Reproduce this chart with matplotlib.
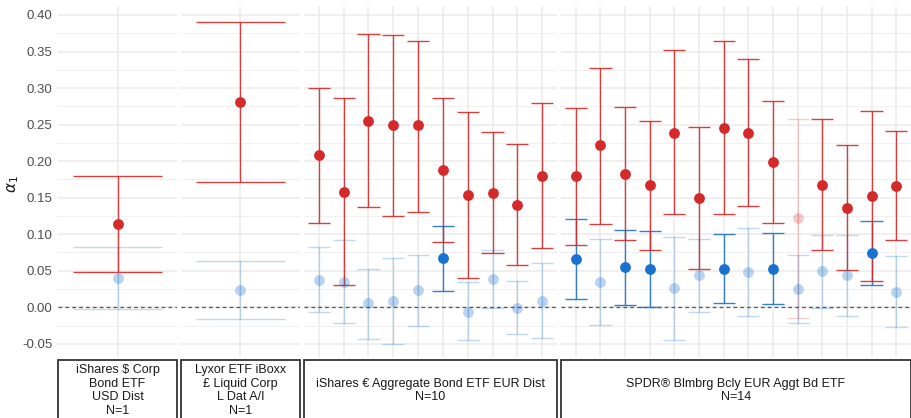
"""Faceted alpha_1 estimates per fund: red = one estimate, blue = the other, faded when CI crosses 0."""

import matplotlib
matplotlib.use("Agg")
import matplotlib.pyplot as plt
from matplotlib.patches import Rectangle
from matplotlib.ticker import MultipleLocator

plt.rcParams["font.family"] = ["Liberation Sans", "DejaVu Sans"]

funds = ["iShares $ Corp\nBond ETF\nUSD Dist\nN=1",
         "Lyxor ETF iBoxx\n£ Liquid Corp\nL Dat A/I\nN=1",
         "iShares € Aggregate Bond ETF EUR Dist\nN=10",
         "SPDR® Blmbrg Bcly EUR Aggt Bd ETF\nN=14"]

red_est = [[0.114], [0.281],
           [0.208, 0.158, 0.255, 0.249, 0.249, 0.188, 0.153, 0.157, 0.140, 0.180],
           [0.179, 0.222, 0.183, 0.167, 0.239, 0.150, 0.246, 0.239, 0.199, 0.122,
            0.168, 0.136, 0.152, 0.166]]
red_lo = [[0.048], [0.172],
          [0.116, 0.031, 0.137, 0.125, 0.131, 0.090, 0.040, 0.074, 0.058, 0.081],
          [0.085, 0.114, 0.092, 0.079, 0.127, 0.053, 0.127, 0.139, 0.115, -0.014,
           0.079, 0.051, 0.036, 0.092]]
red_hi = [[0.179], [0.390],
          [0.300, 0.286, 0.374, 0.372, 0.365, 0.286, 0.267, 0.240, 0.223, 0.279],
          [0.273, 0.328, 0.274, 0.255, 0.352, 0.247, 0.365, 0.340, 0.282, 0.257,
           0.257, 0.222, 0.269, 0.241]]

blue_est = [[0.040], [0.023],
            [0.037, 0.035, 0.006, 0.008, 0.023, 0.067, -0.006, 0.039, -0.001, 0.009],
            [0.066, 0.035, 0.055, 0.052, 0.026, 0.044, 0.053, 0.048, 0.053, 0.025,
             0.050, 0.044, 0.074, 0.021]]
blue_lo = [[-0.002], [-0.016],
           [-0.007, -0.022, -0.043, -0.050, -0.026, 0.022, -0.045, -0.001, -0.037, -0.042],
           [0.012, -0.024, 0.003, 0.001, -0.045, -0.007, 0.006, -0.012, 0.004, -0.022,
            -0.001, -0.012, 0.031, -0.027]]
blue_hi = [[0.082], [0.063],
           [0.082, 0.092, 0.053, 0.067, 0.071, 0.111, 0.034, 0.079, 0.036, 0.060],
           [0.121, 0.094, 0.106, 0.104, 0.096, 0.094, 0.100, 0.108, 0.102, 0.072,
            0.099, 0.099, 0.118, 0.070]]

RED, BLUE = "#d42a2a", "#1a72d0"
W, H = 911, 418
panels_px = [(58, 177), (181, 300), (304, 557), (561, 911)]
top_px, bot_px = 6, 357

fig = plt.figure(figsize=(W / 100, H / 100), dpi=100)


def box(x0, x1, y0, y1):
    return [x0 / W, 1 - y1 / H, (x1 - x0) / W, (y1 - y0) / H]


def draw_series(ax, est, lo, hi, color, faded_alpha):
    for i, (e, l, h) in enumerate(zip(est, lo, hi)):
        a = 1.0 if l > 0 else faded_alpha
        ax.vlines(i, l, h, color=color, lw=1.0, alpha=a * 0.9, zorder=3)
        ax.hlines([l, h], i - 0.45, i + 0.45, color=color, lw=1.0, alpha=a * 0.9, zorder=3)
        ax.plot(i, e, "o", ms=7.8, color=color, mec="none", alpha=a, zorder=4)


for k, (x0, x1) in enumerate(panels_px):
    ax = fig.add_axes(box(x0, x1, top_px, bot_px))
    n = len(red_est[k])
    ax.set_xlim(-0.6, n - 1 + 0.6)
    ax.set_ylim(-0.068, 0.4123)
    ax.yaxis.set_major_locator(MultipleLocator(0.05))
    ax.yaxis.set_minor_locator(MultipleLocator(0.025))
    ax.set_xticks(range(n))
    ax.grid(True, which="major", color="#ebebeb", lw=1.1, zorder=0)
    ax.grid(True, which="minor", axis="y", color="#f0f0f0", lw=0.8, zorder=0)
    ax.set_axisbelow(True)
    for s in ax.spines.values():
        s.set_visible(False)
    ax.tick_params(axis="x", length=0, labelbottom=False)
    ax.tick_params(axis="y", which="both", length=0)
    if k == 0:
        ax.set_yticks([i * 0.05 for i in range(-1, 9)])
        ax.set_yticklabels([f"{i * 0.05:.2f}" for i in range(-1, 9)],
                           color="#4d4d4d", fontsize=9.5)
        ax.tick_params(axis="y", pad=4)
    else:
        ax.tick_params(axis="y", labelleft=False)
    ax.axhline(0, color="#555555", lw=0.9, ls=(0, (3, 2.5)), zorder=2)

    draw_series(ax, blue_est[k], blue_lo[k], blue_hi[k], BLUE, 0.3)
    draw_series(ax, red_est[k], red_lo[k], red_hi[k], RED, 0.25)

    sax = fig.add_axes(box(x0, x1, 360, 421))
    sax.set_axis_off()
    sax.add_patch(Rectangle((0, 0), 1, 1, transform=sax.transAxes, fill=False,
                            ec="#333333", lw=1.3, clip_on=False))
    sax.text(0.5, 0.5, funds[k], ha="center", va="center", fontsize=9,
             color="#1a1a1a", linespacing=1.15, transform=sax.transAxes)

fig.text(13 / W, 1 - 184 / H, r"$\alpha_1$", rotation=90, ha="center", va="center",
         fontsize=11, color="#1a1a1a")

fig.savefig("out.png", dpi=100)
